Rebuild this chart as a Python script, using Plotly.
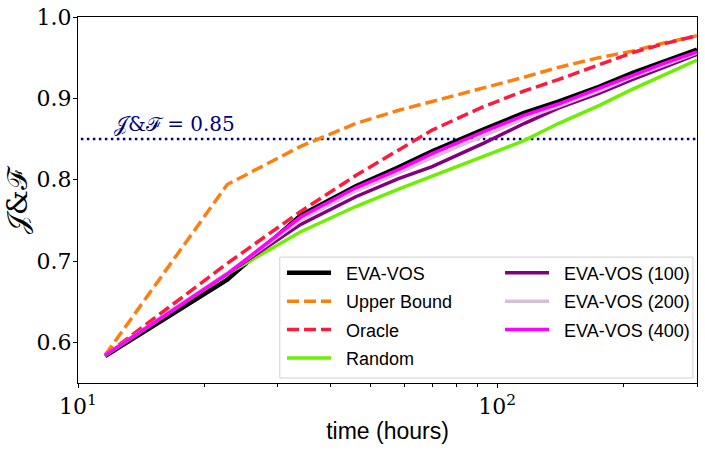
import plotly.graph_objects as go

# --- data (time in hours, J&F score) ---
hours = [11.6, 22.7, 34, 46, 58, 70, 93, 116, 140, 175, 210, 250, 300]

eva_vos = [0.583, 0.677, 0.756, 0.792, 0.815, 0.835, 0.862, 0.882, 0.896, 0.914, 0.931, 0.945, 0.960]
upper_bound = [0.584, 0.794, 0.841, 0.869, 0.885, 0.896, 0.913, 0.926, 0.938, 0.950, 0.958, 0.968, 0.977]
oracle = [0.584, 0.697, 0.761, 0.805, 0.836, 0.861, 0.890, 0.909, 0.923, 0.941, 0.956, 0.967, 0.977]
random_sel = [0.584, 0.684, 0.736, 0.767, 0.788, 0.804, 0.829, 0.848, 0.869, 0.891, 0.911, 0.929, 0.947]
eva_100 = [0.584, 0.685, 0.745, 0.779, 0.801, 0.816, 0.845, 0.869, 0.888, 0.906, 0.923, 0.938, 0.954]
eva_200 = [0.584, 0.685, 0.750, 0.786, 0.808, 0.827, 0.854, 0.875, 0.890, 0.909, 0.926, 0.941, 0.956]
eva_400 = [0.584, 0.684, 0.754, 0.790, 0.812, 0.832, 0.859, 0.879, 0.893, 0.912, 0.928, 0.943, 0.957]

threshold = 0.85
x_ticks = [10, 100]
x_tick_text = ["10<sup>1</sup>", "10<sup>2</sup>"]
x_minor = [20, 30, 40, 50, 60, 70, 80, 90, 200, 300]
y_ticks = [0.6, 0.7, 0.8, 0.9, 1.0]

SERIF = "DejaVu Serif"
SANS = "Liberation Sans"
PAD = "\u00a0\u00a0"  # small gap between legend line and label

series = [
    ("EVA-VOS", eva_vos, "black", 4.5, "solid", "legend"),
    ("Upper Bound", upper_bound, "#ff7f0e", 3.5, "12px,5px", "legend"),
    ("Oracle", oracle, "#ff1a3c", 3.5, "12px,5px", "legend"),
    ("Random", random_sel, "#6cf000", 3.5, "solid", "legend"),
    ("EVA-VOS (100)", eva_100, "#800080", 3.5, "solid", "legend2"),
    ("EVA-VOS (200)", eva_200, "#d8bfd8", 3.5, "solid", "legend2"),
    ("EVA-VOS (400)", eva_400, "#ff00ff", 3.5, "solid", "legend2"),
]

fig = go.Figure()

# threshold line
fig.add_trace(go.Scatter(
    x=[hours[0] * 0.5, hours[-1] * 1.1], y=[threshold, threshold],
    mode="lines", line=dict(color="#000080", width=2.5, dash="2.5px,3.5px"),
    showlegend=False, hoverinfo="skip",
))

for name, vals, color, width, dash, leg in series:
    fig.add_trace(go.Scatter(
        x=hours, y=vals, name=PAD + name, mode="lines",
        line=dict(color=color, width=width, dash=dash),
        legend=leg, legendgroup=name,
    ))

fig.add_annotation(
    x=1.081, y=0.868, xref="x", yref="y",
    text="𝒥&ℱ = 0.85", showarrow=False,
    xanchor="left", yanchor="middle",
    font=dict(family=SERIF, size=20, color="#000080"),
)

# y axis title
fig.add_annotation(
    x=-0.0985, y=0.5, xref="paper", yref="paper",
    text="𝒥&ℱ", showarrow=False, textangle=-90,
    xanchor="center", yanchor="middle",
    font=dict(family=SERIF, size=28, color="black"),
)

# legend frame
fig.add_shape(
    type="rect", xref="paper", yref="paper",
    x0=0.326, x1=0.9935, y0=0.0137, y1=0.344,
    line=dict(color="#d0d0d0", width=1), fillcolor="rgba(255,255,255,0.85)",
    layer="above",
)

legend_common = dict(
    xanchor="left", yanchor="top", bgcolor="rgba(0,0,0,0)", borderwidth=0,
    font=dict(family=SANS, size=18, color="black"),
    itemwidth=44, tracegroupgap=2,
)

fig.update_layout(
    width=705, height=456,
    margin=dict(l=78, r=8, t=17, b=73),
    plot_bgcolor="white", paper_bgcolor="white",
    legend=dict(x=0.3296, y=0.351, **legend_common),
    legend2=dict(x=0.6818, y=0.351, **legend_common),
    xaxis=dict(
        type="log", range=[1, 2.4771], automargin=False,
        tickvals=x_ticks, ticktext=x_tick_text,
        tickfont=dict(family=SERIF, size=22, color="black"),
        ticks="outside", ticklen=4, tickcolor="black",
        minor=dict(tickvals=x_minor, ticks="outside", ticklen=3, tickcolor="black"),
        showgrid=False, zeroline=False,
        showline=True, linecolor="black", linewidth=1, mirror=True,
        title=dict(text="time (hours)", font=dict(family=SANS, size=23, color="black"), standoff=4),
    ),
    yaxis=dict(
        range=[0.55, 1.0], automargin=False,
        tickvals=y_ticks, tickformat=".1f",
        tickfont=dict(family=SERIF, size=22, color="black"),
        ticks="outside", ticklen=4, tickcolor="black", ticklabelstandoff=-3,
        showgrid=False, zeroline=False,
        showline=True, linecolor="black", linewidth=1, mirror=True,
    ),
)

fig.write_html(
    "out.html",
    config={"displayModeBar": False},
    post_script="document.body.style.margin='0';",
)
